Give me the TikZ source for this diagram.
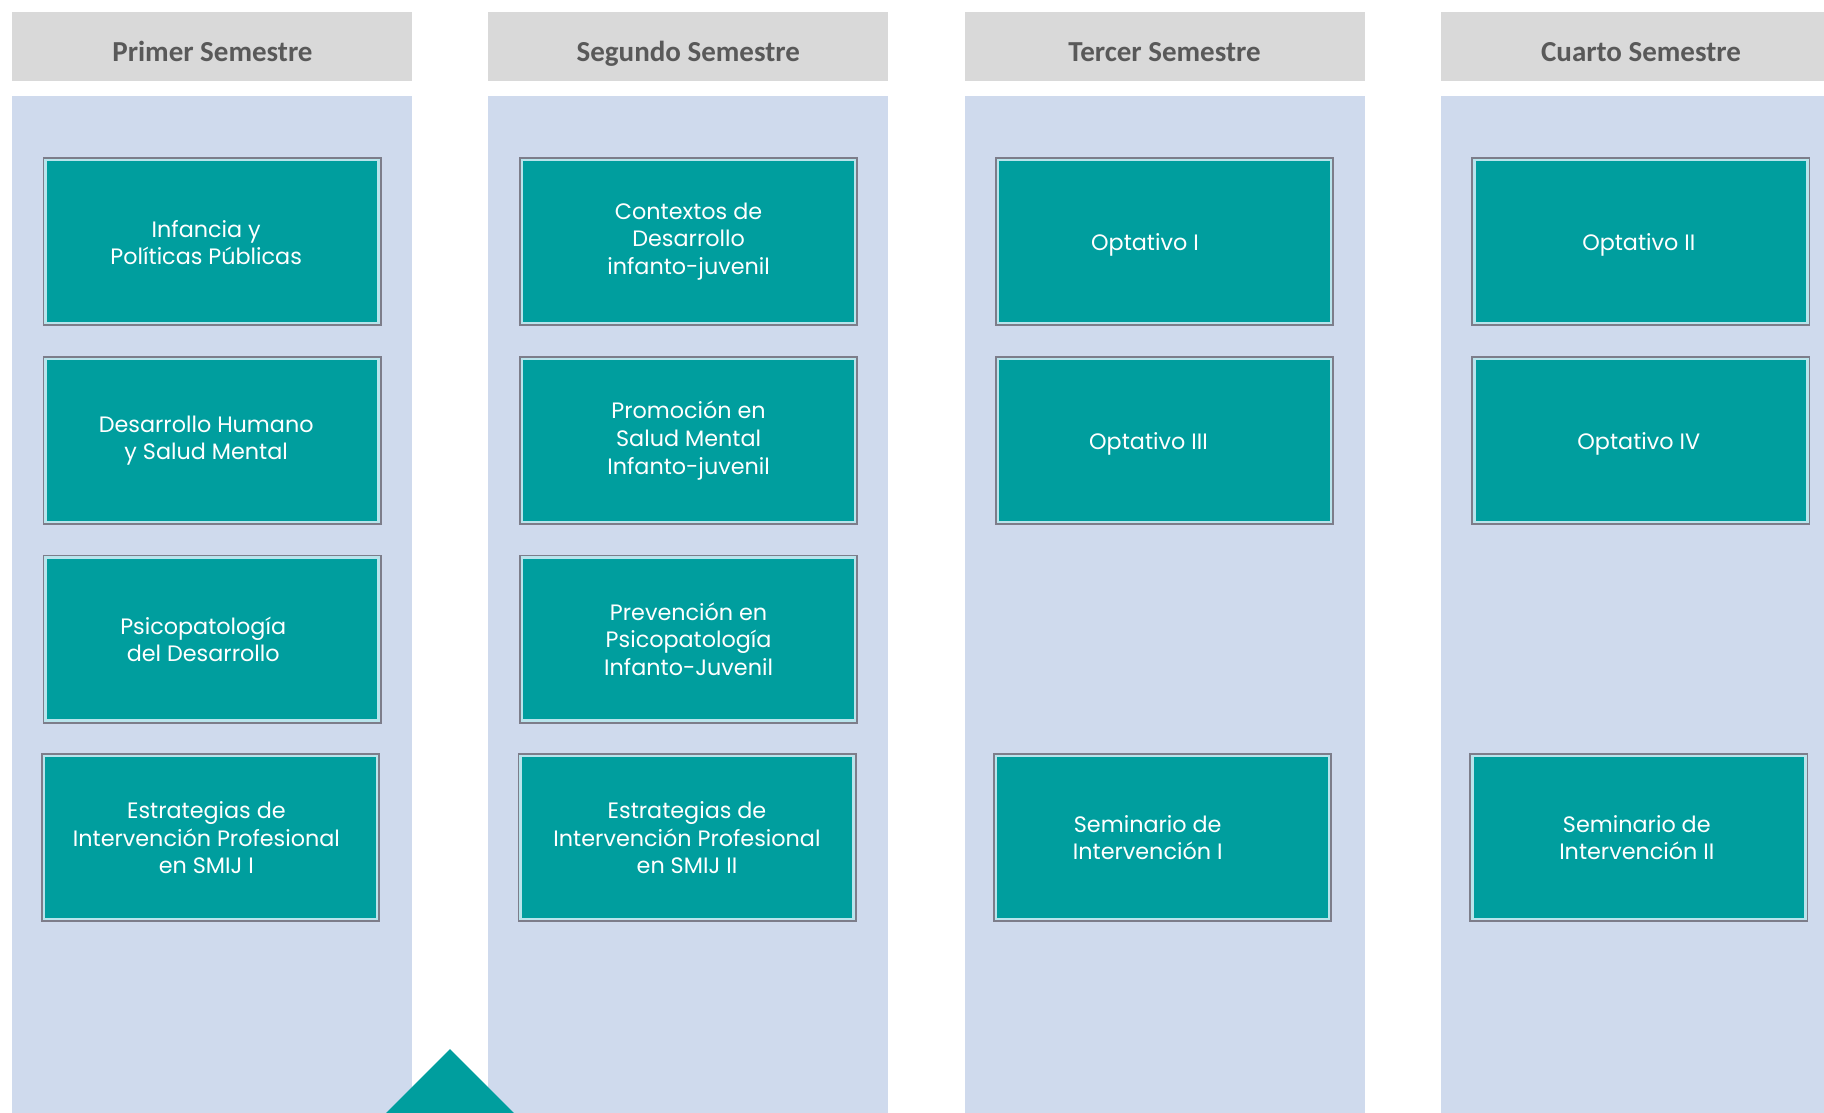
\documentclass[tikz,border=0pt]{standalone}
\usepackage{fontspec}
\setmainfont{Poppins}
\newfontfamily\hdrfont{Carlito}
\definecolor{tealbox}{RGB}{0,158,158}
\definecolor{innerline}{RGB}{185,228,236}
\definecolor{bordergray}{RGB}{125,125,138}
\definecolor{colblue}{RGB}{207,218,237}
\definecolor{hdrgray}{RGB}{217,217,217}
\definecolor{hdrtext}{RGB}{89,89,89}
\tikzset{
  hdrbox/.style={fill=hdrgray, draw=none, inner sep=0pt, minimum width=400pt, minimum height=69pt},
  hdrlabel/.style={anchor=base, text=hdrtext, inner sep=0pt, font=\hdrfont\bfseries\fontsize{29}{34}\selectfont},
  colband/.style={fill=colblue, draw=none},
  course/.style={fill=tealbox, draw=innerline, line width=2.5pt,
     preaction={draw=bordergray, line width=6pt},
     inner sep=0pt, minimum width=333pt, minimum height=163pt},
  ctext/.style={text=white, align=center, inner sep=0pt, font=\fontsize{22.3}{27.6}\selectfont},
}
\begin{document}
\begin{tikzpicture}[x=1pt,y=-1pt]
\useasboundingbox (0,0) rectangle (1824,1113);
% columns
\fill[colband] (11.6,96.5) rectangle (411.6,1113);
\fill[colband] (488.3,96.5) rectangle (888.3,1113);
\fill[colband] (964.6,96.5) rectangle (1364.6,1113);
\fill[colband] (1441,96.5) rectangle (1824,1113);
% headers
\node[hdrbox] (h1) at (211.6,47) {};
\node[hdrbox] (h2) at (688.3,47) {};
\node[hdrbox] (h3) at (1164.6,47) {};
\node[hdrbox, minimum width=383pt] (h4) at (1632.5,47) {};
\node[hdrlabel] (hl1) at (212.5,61.5) {Primer Semestre};
\node[hdrlabel] (hl2) at (688.3,61.5) {Segundo Semestre};
\node[hdrlabel] (hl3) at (1164.6,61.5) {Tercer Semestre};
\node[hdrlabel] (hl4) at (1641,61.5) {Cuarto Semestre};
% column 1
\node[course] (c11) at (212.2,241.5) {};
\node[course] (c12) at (212.2,440.5) {};
\node[course] (c13) at (212.2,639.2) {};
\node[course] (c14) at (210.4,837.7) {};
\node[ctext] (t11) at ([xshift=-6pt,yshift=-1pt]c11.center) {Infancia y\\Políticas Públicas};
\node[ctext] (t12) at ([xshift=-6pt]c12.center) {Desarrollo Humano\\y Salud Mental};
\node[ctext] (t13) at ([xshift=-9pt]c13.center) {Psicopatología\\del Desarrollo};
\node[ctext] (t14) at ([xshift=-4pt]c14.center) {Estrategias de\\Intervención Profesional\\en SMIJ I};
% column 2
\node[course] (c21) at (688.6,241.5) {};
\node[course] (c22) at (688.6,440.5) {};
\node[course] (c23) at (688.6,639.2) {};
\node[course] (c24) at (687,837.7) {};
\node[ctext] (t21) at (c21.center) {Contextos de\\Desarrollo\\infanto-juvenil};
\node[ctext] (t22) at (c22.center) {Promoción en\\Salud Mental\\Infanto-juvenil};
\node[ctext] (t23) at (c23.center) {Prevención en\\Psicopatología\\Infanto-Juvenil};
\node[ctext] (t24) at (c24.center) {Estrategias de\\Intervención Profesional\\en SMIJ II};
% column 3
\node[course] (c31) at (1164.5,241.5) {};
\node[course] (c32) at (1164.5,440.5) {};
\node[course] (c34) at (1162.7,837.7) {};
\node[ctext] (t31) at ([xshift=-19.5pt,yshift=-3.5pt]c31.center) {Optativo I};
\node[ctext] (t32) at ([xshift=-16pt,yshift=-3.5pt]c32.center) {Optativo III};
\node[ctext] (t34) at ([xshift=-15pt]c34.center) {Seminario de\\Intervención I};
% column 4
\node[course] (c41) at (1640.8,241.5) {};
\node[course] (c42) at (1640.8,440.5) {};
\node[course] (c44) at (1638.8,837.7) {};
\node[ctext] (t41) at ([xshift=-2pt,yshift=-3.5pt]c41.center) {Optativo II};
\node[ctext] (t42) at ([xshift=-2pt,yshift=-3.5pt]c42.center) {Optativo IV};
\node[ctext] (t44) at ([xshift=-2pt]c44.center) {Seminario de\\Intervención II};
% triangle
\fill[tealbox] (386,1113) -- (450,1049) -- (514,1113) -- cycle;
\end{tikzpicture}
\end{document}
